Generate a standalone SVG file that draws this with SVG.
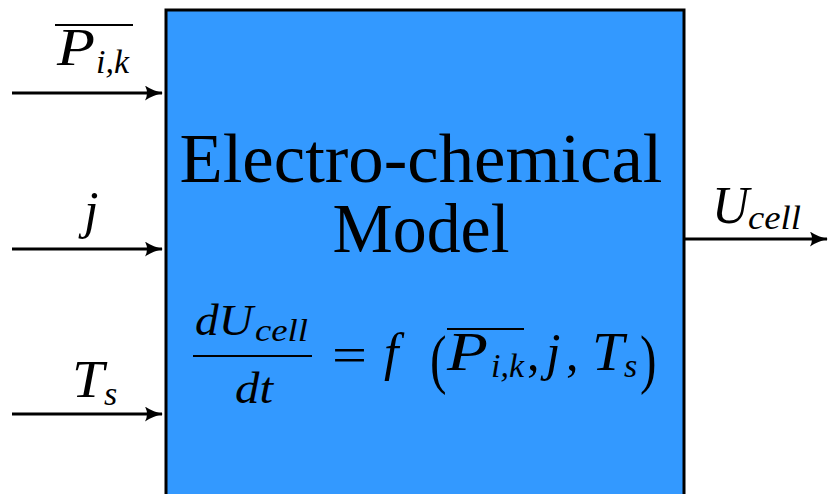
<svg xmlns="http://www.w3.org/2000/svg" width="832" height="494" viewBox="0 0 832 494">
<style>
.m{font-family:"Liberation Serif","DejaVu Serif",serif;font-style:italic;fill:#000}
.r{font-family:"Liberation Serif","DejaVu Serif",serif;fill:#000}
.c{stroke:#000;stroke-width:3;fill:none}
</style>
<defs>
<marker id="ah" viewBox="0 0 18 15" refX="17" refY="7.5" markerWidth="18" markerHeight="15" markerUnits="userSpaceOnUse" orient="auto">
<path d="M0,0 Q8,5.5 18,7.5 Q8,9.5 0,15 Q4,7.5 0,0 Z" fill="#000"/>
</marker>
</defs>
<rect width="832" height="494" fill="#fff"/>
<g id="model">
<rect x="166" y="10" width="518" height="500" fill="#3399ff" stroke="#000" stroke-width="3"/>
<text class="r" x="421" y="182" font-size="70" text-anchor="middle" textLength="483" lengthAdjust="spacingAndGlyphs">Electro-chemical</text>
<text class="r" x="421" y="252" font-size="70" text-anchor="middle" textLength="177" lengthAdjust="spacingAndGlyphs">Model</text>
<g id="equation">
<text class="m" x="195" y="335" font-size="44" textLength="58" lengthAdjust="spacingAndGlyphs">dU</text>
<text class="m" x="255" y="341" font-size="31" textLength="53" lengthAdjust="spacingAndGlyphs">cell</text>
<line x1="193" y1="356" x2="312" y2="356" stroke="#000" stroke-width="2.2"/>
<text class="m" x="235" y="403" font-size="44" textLength="38" lengthAdjust="spacingAndGlyphs">dt</text>
<text class="r" x="332" y="372" font-size="50" textLength="35" lengthAdjust="spacingAndGlyphs">=</text>
<text class="m" x="384" y="370" font-size="52">f</text>
<text class="r" x="430" y="381" font-size="62" transform="translate(430 381) scale(0.8 1.05) translate(-430 -381)">(</text>
<line x1="447" y1="329" x2="524" y2="329" stroke="#000" stroke-width="2"/>
<text class="m" x="447" y="370" font-size="54" textLength="41" lengthAdjust="spacingAndGlyphs">P</text>
<text class="m" x="491" y="377" font-size="33" textLength="33" lengthAdjust="spacingAndGlyphs">i,k</text>
<text class="r" x="527" y="370" font-size="50">,</text>
<text class="m" x="546" y="370" font-size="52">j</text>
<text class="r" x="566" y="370" font-size="50">,</text>
<text class="m" x="592" y="370" font-size="54" textLength="32" lengthAdjust="spacingAndGlyphs">T</text>
<text class="m" x="624" y="377" font-size="34">s</text>
<text class="r" x="640" y="381" font-size="62" transform="translate(640 381) scale(0.8 1.05) translate(-640 -381)">)</text>
</g>
</g>
<g id="in_P">
<line x1="55" y1="25" x2="133" y2="25" stroke="#000" stroke-width="2"/>
<text class="m" x="57" y="65" font-size="52" textLength="38" lengthAdjust="spacingAndGlyphs">P</text>
<text class="m" x="96" y="73" font-size="33" textLength="33" lengthAdjust="spacingAndGlyphs">i,k</text>
</g>
<g id="in_j"><text class="m" x="84" y="228" font-size="52">j</text></g>
<g id="in_T">
<text class="m" x="72" y="397" font-size="52" textLength="32" lengthAdjust="spacingAndGlyphs">T</text>
<text class="m" x="104" y="405" font-size="34">s</text>
</g>
<g id="out_U">
<text class="m" x="712" y="223" font-size="52" textLength="37" lengthAdjust="spacingAndGlyphs">U</text>
<text class="m" x="748" y="229" font-size="34" textLength="53" lengthAdjust="spacingAndGlyphs">cell</text>
</g>
<g id="connectors">
<line class="c" x1="12" y1="93" x2="162" y2="93" marker-end="url(#ah)"/>
<line class="c" x1="12" y1="249" x2="162" y2="249" marker-end="url(#ah)"/>
<line class="c" x1="12" y1="414" x2="162" y2="414" marker-end="url(#ah)"/>
<line class="c" x1="684" y1="239" x2="827" y2="239" marker-end="url(#ah)"/>
</g>
</svg>
